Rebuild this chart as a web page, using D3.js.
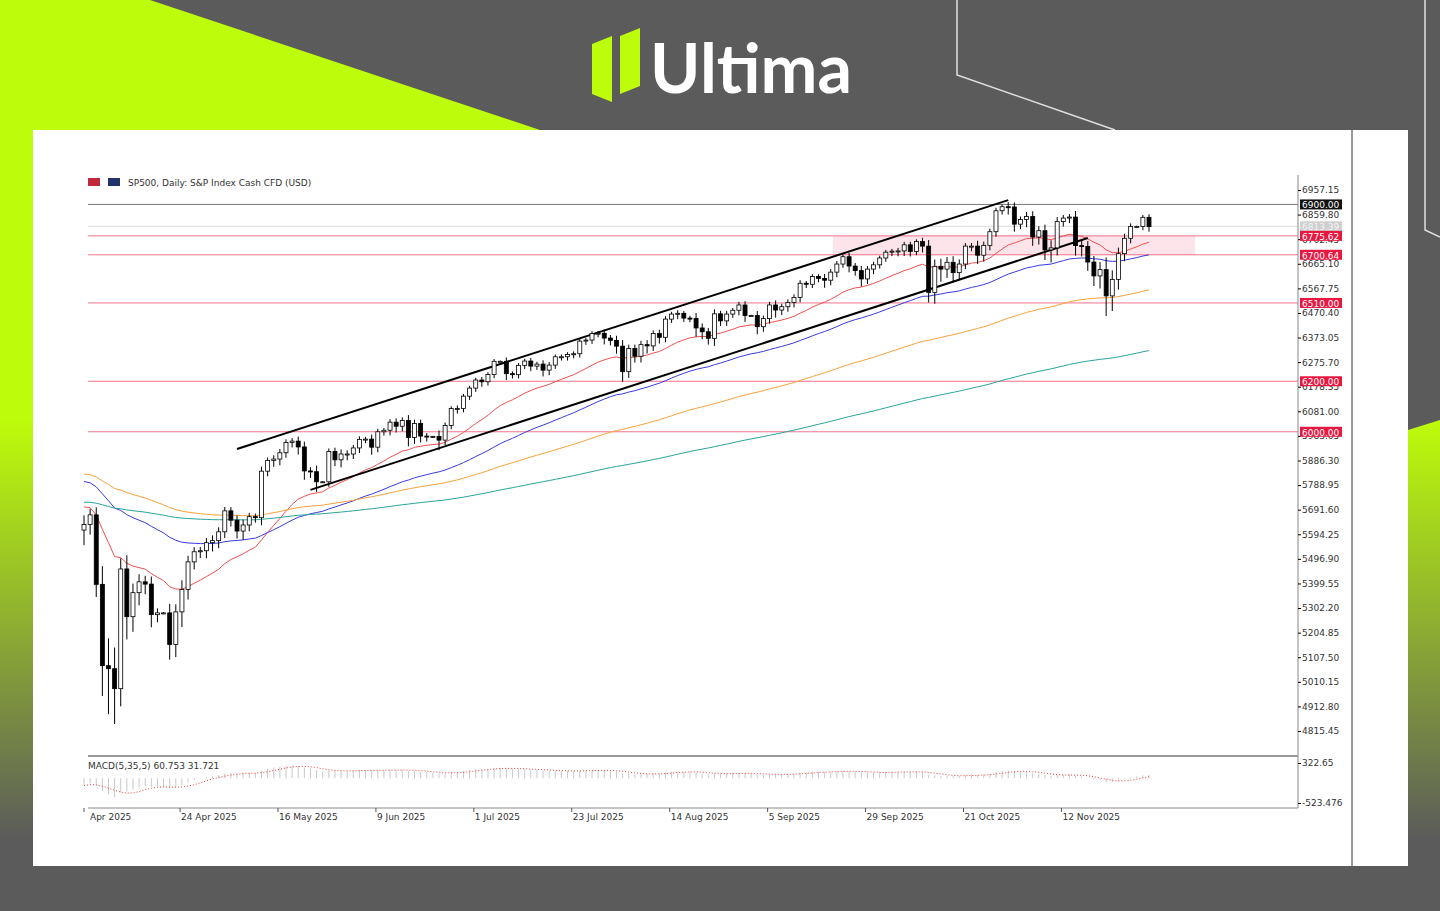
<!DOCTYPE html>
<html><head><meta charset="utf-8">
<script src="https://cdn.jsdelivr.net/npm/d3@7"></script>
<style>body{margin:0;background:#5b5b5b;overflow:hidden}text{font-family:"DejaVu Sans",sans-serif}</style>
</head><body><svg id="c" width="1440" height="911"></svg>
<script>
// daily closes Apr 1 - Dec 1 2025 (weekdays, CFD trades holidays)
var closes = [
 5633,5671,5396,5074,5062,4983,5457,5268,5363,5406,5397,5276,5283,5283,5158,5287,5376,5485,5525,5529,5561,5569,
 5604,5687,5650,5607,5631,5664,5660,5844,5886,5892,5917,5958,5963,5940,5845,5842,5802,5802,5922,5889,5912,5912,
 5936,5970,5971,5939,6000,6006,6038,6022,6045,5977,6033,5983,5981,5981,5967,6025,6092,6092,6141,6173,6205,
 6198,6227,6279,6279,6230,6226,6263,6280,6260,6268,6244,6264,6297,6297,6306,6309,6359,6363,6389,6390,6371,6362,6339,
 6238,6330,6299,6345,6340,6389,6374,6446,6466,6469,6450,6449,6411,6396,6370,6467,6439,6466,6481,6502,6460,
 6460,6416,6448,6502,6482,6495,6512,6532,6588,6584,6615,6607,6600,6632,6664,6693,6656,6638,6605,6644,6661,6688,
 6711,6715,6716,6740,6714,6753,6735,6552,6655,6644,6671,6630,6664,6735,6735,6699,6738,6792,6875,6891,6890,6822,6840,
 6852,6771,6796,6720,6728,6832,6846,6850,6737,6734,6672,6617,6642,6538,6603,6705,6766,6813,6813,6849,
 6812];
var wicks = [
 60,40,50,120,180,140,70,90,60,50,40,50,30,5,60,50,60,40,30,25,30,35,
 30,25,25,30,35,25,20,30,20,25,25,20,20,30,35,25,40,5,20,25,30,25,
 20,20,15,30,20,15,20,25,20,35,25,25,20,5,40,20,15,20,15,15,15,
 20,15,15,5,25,15,15,15,20,15,25,20,15,15,15,15,15,15,15,15,25,20,30,
 40,25,25,25,30,20,25,20,15,20,15,15,35,30,25,30,20,20,15,20,25,
 5,30,20,20,30,20,20,20,20,15,15,15,30,20,20,15,25,20,30,20,20,15,
 15,15,20,20,20,15,25,40,45,50,35,40,30,20,20,35,25,20,20,15,30,30,20,
 30,35,30,40,50,30,20,20,40,40,35,40,50,80,60,40,30,20,5,15,
 20];
var firstOpen = 5611;
var priceTicks = [6957.15,6859.80,6762.45,6665.10,6567.75,6470.40,6373.05,6275.70,6178.35,6081.00,5983.65,5886.30,5788.95,5691.60,5594.25,5496.90,5399.55,5302.20,5204.85,5107.50,5010.15,4912.80,4815.45];
var levels = [{v:6775.62,c:"#e8173f"},{v:6700.64,c:"#e8173f"},{v:6510.00,c:"#e8173f"},{v:6200.00,c:"#e8173f"},{v:6000.00,c:"#e8173f"}];
var maSeeds = [{p:20,s:5710,c:"#f0504f"},{p:50,s:5810,c:"#3a3ae0"},{p:100,s:5837,c:"#f7a13a"},{p:200,s:5722,c:"#2aa39a"}];
var dateLabels = [["2025-04-01","Apr 2025"],["2025-04-24","24 Apr 2025"],["2025-05-16","16 May 2025"],["2025-06-09","9 Jun 2025"],["2025-07-01","1 Jul 2025"],["2025-07-23","23 Jul 2025"],["2025-08-14","14 Aug 2025"],["2025-09-05","5 Sep 2025"],["2025-09-29","29 Sep 2025"],["2025-10-21","21 Oct 2025"],["2025-11-12","12 Nov 2025"]];
var channels = [[["2025-05-06",5932],["2025-10-29",6917]],[["2025-05-22",5770],["2025-11-17",6767]]];
var lastPrice = 6813.39;

var svg = d3.select("#c");
var dates = d3.timeDay.range(new Date(2025,3,1), new Date(2025,11,2)).filter(function(d){return d.getDay()%6!=0;});
var fmt = d3.timeFormat("%Y-%m-%d");
var idx = {}; dates.forEach(function(d,i){idx[fmt(d)]=i;});
var bars = closes.map(function(c,i){
  var o = i==0?firstOpen:closes[i-1];
  return {i:i,o:o,c:c,h:Math.max(o,c)+wicks[i]*0.6,l:Math.min(o,c)-wicks[i]};
});

// background decoration
svg.append("polygon").attr("points","0,0 150,0 540,130 33,130 33,760 0,760").attr("fill","#bdfc0a");
var gr = svg.append("defs").append("linearGradient").attr("id","fade").attr("x1",0).attr("y1",0).attr("x2",0).attr("y2",1);
gr.append("stop").attr("offset",0).attr("stop-color","#bdfc0a");
gr.append("stop").attr("offset",1).attr("stop-color","#5b5b5b");
svg.append("rect").attr("x",0).attr("y",420).attr("width",33).attr("height",420).attr("fill","url(#fade)");
svg.append("polygon").attr("points","1408,430 1440,420 1440,840 1408,840").attr("fill","url(#fade)");
svg.append("path").attr("d","M957,0V75L1115,130M1425,0V230L1440,237").attr("fill","none").attr("stroke","#e0e0e0").attr("stroke-width",1.5);
svg.append("polygon").attr("points","592,44 612,36 612,102 592,94").attr("fill","#bdfc0a");
svg.append("polygon").attr("points","620,36 640,28 640,86 620,94").attr("fill","#bdfc0a");
svg.append("text").attr("x",650).attr("y",93).attr("font-size",68).attr("font-weight","bold").attr("fill","#fff").style("font-family","Lato").text("Ultima");
svg.append("rect").attr("x",33).attr("y",130).attr("width",1375).attr("height",736).attr("fill","#fff");
svg.append("line").attr("x1",1352).attr("x2",1352).attr("y1",130).attr("y2",866).attr("stroke","#333");

var x = d3.scaleLinear().domain([0,174]).range([84,1149]);
var y = d3.scaleLinear().domain([4815.45,6957.15]).range([731,190]);
var ym = d3.scaleLinear().domain([-523.476,322.65]).range([803,763]);
var g = svg.append("g");

// zone and levels
g.append("rect").attr("x",833).attr("width",362).attr("y",y(6775.62)).attr("height",y(6700.64)-y(6775.62)).attr("fill","#fde4ea");
g.append("line").attr("x1",88).attr("x2",1298).attr("y1",y(6900)).attr("y2",y(6900)).attr("stroke","#777");
g.append("line").attr("x1",88).attr("x2",1298).attr("y1",y(lastPrice)).attr("y2",y(lastPrice)).attr("stroke","#ddd");
g.selectAll(".lv").data(levels).enter().append("line").attr("x1",88).attr("x2",1298)
  .attr("y1",function(d){return y(d.v);}).attr("y2",function(d){return y(d.v);}).attr("stroke",function(d){return d.c;}).attr("stroke-opacity",0.6);

// moving averages (EMA)
maSeeds.forEach(function(m){
  var a=2/(m.p+1), e=m.s, pts=[];
  closes.forEach(function(c,i){e=e+a*(c-e);pts.push([x(i),y(e)]);});
  g.append("path").attr("d",d3.line()(pts)).attr("fill","none").attr("stroke",m.c).attr("stroke-width",1);
});

// channel lines
channels.forEach(function(c){
  g.append("line").attr("x1",x(idx[c[0][0]])).attr("y1",y(c[0][1])).attr("x2",x(idx[c[1][0]])).attr("y2",y(c[1][1])).attr("stroke","#000").attr("stroke-width",2);
});

// candles
var cg = g.selectAll(".cd").data(bars).enter().append("g");
cg.append("line").attr("x1",function(d){return x(d.i);}).attr("x2",function(d){return x(d.i);})
  .attr("y1",function(d){return y(d.h);}).attr("y2",function(d){return y(d.l);}).attr("stroke","#000");
cg.append("rect").attr("x",function(d){return x(d.i)-2;}).attr("width",4)
  .attr("y",function(d){return y(Math.max(d.o,d.c));})
  .attr("height",function(d){return Math.max(1,Math.abs(y(d.o)-y(d.c)));})
  .attr("fill",function(d){return d.c<d.o?"#000":"#fff";}).attr("stroke","#000").attr("stroke-width",0.8);

// price axis
svg.append("line").attr("x1",1298).attr("x2",1298).attr("y1",175).attr("y2",808).attr("stroke","#888");
svg.append("line").attr("x1",88).attr("x2",1298).attr("y1",756).attr("y2",756).attr("stroke","#999").attr("stroke-width",2);
svg.append("line").attr("x1",88).attr("x2",1298).attr("y1",808).attr("y2",808).attr("stroke","#888");
var ax = svg.append("g").attr("transform","translate(1298,0)").call(d3.axisRight(y).tickValues(priceTicks).tickSize(3).tickFormat(d3.format(".2f")));
ax.select(".domain").remove();
ax.selectAll("text").attr("font-size",9).attr("fill","#333").attr("x",4);
function tag(v,bg,fg,t){
  svg.append("rect").attr("x",1300).attr("y",y(v)-5).attr("width",42).attr("height",10).attr("fill",bg);
  svg.append("text").attr("x",1302).attr("y",y(v)+4).attr("font-size",9).attr("fill",fg).text(t);
}
tag(6900,"#111","#fff","6900.00");
tag(lastPrice,"#cfcfcf","#f4f4f4",lastPrice.toFixed(2));
levels.forEach(function(l){tag(l.v,l.c,"#fff",l.v.toFixed(2));});

// MACD(5,35,5)
var e5=closes[0]-150,e35=closes[0]+60,macd=[];
closes.forEach(function(c){e5+= (2/6)*(c-e5); e35+=(2/36)*(c-e35); macd.push(e5-e35);});
var sig = macd.map(function(v,i){return d3.mean(macd.slice(Math.max(0,i-4),i+1));});
g.selectAll(".mh").data(macd).enter().append("line").attr("x1",function(d,i){return x(i);}).attr("x2",function(d,i){return x(i);})
  .attr("y1",ym(0)).attr("y2",function(d){return ym(d);}).attr("stroke","#c8c8c8");
g.append("path").attr("d",d3.line().x(function(d,i){return x(i);}).y(function(d){return ym(d);})(sig))
  .attr("fill","none").attr("stroke","#f03c3c").attr("stroke-dasharray","1,2");
svg.append("text").attr("x",88).attr("y",769).attr("font-size",9).attr("fill","#333")
  .text("MACD(5,35,5) 60.753 31.721");
var am = svg.append("g").attr("transform","translate(1298,0)").call(d3.axisRight(ym).tickValues([322.65,-523.476]).tickSize(3).tickFormat(function(d){return d;}));
am.select(".domain").remove(); am.selectAll("text").attr("font-size",9).attr("fill","#333").attr("x",4);

// date axis
dateLabels.forEach(function(d,i){
  var xi = x(idx[d[0]]) - (i==0?0:8);
  svg.append("line").attr("x1",xi).attr("x2",xi).attr("y1",808).attr("y2",812).attr("stroke","#555");
  svg.append("text").attr("x",xi+(i==0?6:1)).attr("y",820).attr("font-size",9).attr("fill","#333").text(d[1]);
});

// header
svg.append("rect").attr("x",88).attr("y",178).attr("width",12).attr("height",8).attr("fill","#c0283c");
svg.append("rect").attr("x",108).attr("y",178).attr("width",12).attr("height",8).attr("fill","#23336b");
svg.append("text").attr("x",128).attr("y",186).attr("font-size",9).attr("fill","#333").text("SP500, Daily:  S&P Index Cash CFD (USD)");
</script></body></html>
